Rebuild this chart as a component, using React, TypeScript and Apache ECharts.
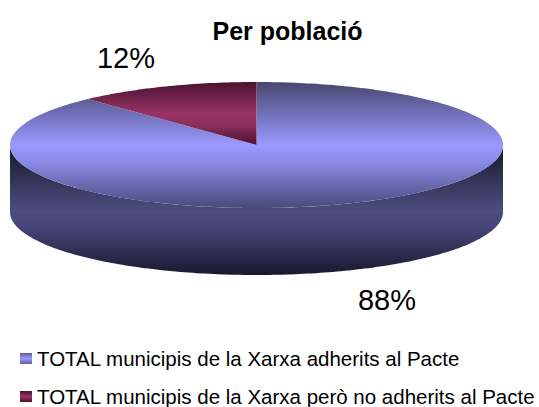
import React, { useEffect, useRef } from "react";
import * as echarts from "echarts";

const title = "Per població";
const seriesNames = [
  "TOTAL municipis de la Xarxa adherits al Pacte",
  "TOTAL municipis de la Xarxa però no adherits al Pacte",
];
const adherits = [88];
const noAdherits = [12];
const total = adherits[0] + noAdherits[0];

const FONT = "'Liberation Sans', Arial, sans-serif";
const cx = 256.5, cy = 145, rx = 246.5, ry = 63, depth = 67;

const pt = (deg: number, dy = 0): number[] => {
  const t = (deg * Math.PI) / 180;
  return [cx + rx * Math.sin(t), cy - ry * Math.cos(t) + dy];
};
const arc = (a: number, b: number, dy = 0): number[][] => {
  const out: number[][] = [];
  const n = Math.max(2, Math.ceil(Math.abs(b - a)));
  for (let i = 0; i <= n; i++) out.push(pt(a + ((b - a) * i) / n, dy));
  return out;
};
const vGrad = (y0: number, y1: number, stops: [number, string][]) =>
  new echarts.graphic.LinearGradient(0, y0, 0, y1, stops.map(([offset, color]) => ({ offset, color })), true);

const topBlue = () => vGrad(82, 208, [[0, "#47476f"], [0.5, "#9999ff"], [0.62, "#8d8dea"], [1, "#4a4a7c"]]);
const topWine = () => vGrad(82, 145, [[0, "#4a1230"], [0.5, "#993366"], [0.7, "#8a2e5c"], [1, "#471030"]]);
const sideBlue = () => vGrad(145, 277, [[0, "#17172a"], [0.5, "#4d4d80"], [0.62, "#46467a"], [1, "#16162a"]]);
const sideWine = () => vGrad(145, 277, [[0, "#2a0a1a"], [0.5, "#7a2850"], [1, "#2a0a1a"]]);

const makeRender = (startValue: number, top: () => any, side: () => any, label: number[]) =>
  (params: any, api: any) => {
    const v = api.value(0) as number;
    const a0 = (startValue / total) * 360;
    const a1 = ((startValue + v) / total) * 360;
    const children: any[] = [];
    const s0 = Math.max(a0, 90), s1 = Math.min(a1, 270);
    if (s1 > s0) {
      children.push({
        type: "polygon",
        shape: { points: [...arc(s0, s1), ...arc(s1, s0, depth)] },
        style: { fill: side() },
      });
    }
    children.push({
      type: "polygon",
      shape: { points: [[cx, cy], ...arc(a0, a1)] },
      style: { fill: top() },
    });
    children.push({
      type: "text",
      style: {
        text: `${v}%`, x: label[0], y: label[1], align: "center", verticalAlign: "middle",
        font: `29px ${FONT}`, fill: "#000",
      },
    });
    return { type: "group", children };
  };

const legendColor = (a: string, b: string) =>
  new echarts.graphic.LinearGradient(0, 0, 0, 1, [
    { offset: 0, color: a }, { offset: 0.5, color: b }, { offset: 1, color: a },
  ]);

export default function App() {
  const ref = useRef<HTMLDivElement>(null);
  useEffect(() => {
    const chart = echarts.init(ref.current!, undefined, { renderer: "svg" });
    chart.setOption({
      animation: false,
      backgroundColor: "#fff",
      title: {
        text: title, left: 282.5, top: 13, textAlign: "center",
        textStyle: { fontFamily: FONT, fontSize: 25, fontWeight: "bold", color: "#000" },
      },
      legend: {
        orient: "vertical", left: 20, top: 348, height: 100, padding: 0, itemWidth: 12, itemHeight: 11, itemGap: 17,
        icon: "rect", selectedMode: false,
        textStyle: { fontFamily: FONT, fontSize: 20.5, color: "#000", lineHeight: 14 },
        data: seriesNames,
      },
      series: [
        {
          type: "custom", name: seriesNames[0], coordinateSystem: "none", data: adherits,
          itemStyle: { color: legendColor("#5c5c99", "#9999ff") },
          renderItem: makeRender(0, topBlue, sideBlue, [387, 300]),
          silent: true,
        },
        {
          type: "custom", name: seriesNames[1], coordinateSystem: "none", data: noAdherits,
          itemStyle: { color: legendColor("#4a1230", "#993366") },
          renderItem: makeRender(adherits[0], topWine, sideWine, [126, 58]),
          silent: true,
        },
      ],
    });
    return () => chart.dispose();
  }, []);
  return <div ref={ref} style={{ position: "fixed", left: 0, top: 0, width: 539, height: 407 }} />;
}
